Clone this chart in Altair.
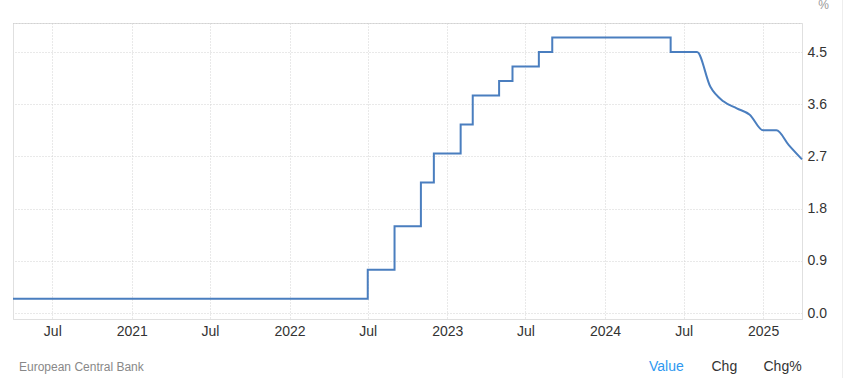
import altair as alt
import pandas as pd

# --- data ---
step_dates = [
    "2020-04-01", "2022-07-01", "2022-09-01", "2022-11-01", "2022-12-01",
    "2023-02-01", "2023-03-01", "2023-05-01", "2023-06-01", "2023-08-01",
    "2023-09-01", "2024-06-01", "2024-08-01",
]
step_values = [0.25, 0.75, 1.50, 2.25, 2.75, 3.25, 3.75, 4.00, 4.25, 4.50, 4.75, 4.50, 4.50]

curve_dates = [
    "2024-07-01", "2024-08-01", "2024-09-01", "2024-10-01", "2024-11-01",
    "2024-12-01", "2025-01-01", "2025-02-01", "2025-03-01", "2025-04-01",
]
curve_values = [4.50, 4.50, 3.90, 3.65, 3.53, 3.42, 3.15, 3.15, 2.90, 2.65]

y_ticks = [0.0, 0.9, 1.8, 2.7, 3.6, 4.5]
x_tick_months = [(2020, 7), (2021, 1), (2021, 7), (2022, 1), (2022, 7),
                 (2023, 1), (2023, 7), (2024, 1), (2024, 7), (2025, 1)]

source_label = "European Central Bank"
footer_labels = ["Value", "Chg", "Chg%"]

# --- build tables ---
step_df = pd.DataFrame({"date": [d + "T00:00:00" for d in step_dates], "value": step_values})
curve_df = pd.DataFrame({"date": [d + "T00:00:00" for d in curve_dates], "value": curve_values})

FONT = "Liberation Sans"
W, H = 789, 296
LINE_COLOR = "#4a7ebf"
GRID = "#d2d2d2"

x_scale = alt.Scale(domain=[alt.DateTime(year=2020, month=4, date=1),
                            alt.DateTime(year=2025, month=4, date=1)])
y_scale = alt.Scale(domain=[-0.1, 5.0], nice=False, zero=False)

x_axis = alt.Axis(
    values=[alt.DateTime(year=y, month=m, date=1) for y, m in x_tick_months],
    labelExpr="month(datum.value) == 0 ? timeFormat(datum.value, '%Y') : 'Jul'",
    title=None, ticks=False, grid=True, gridColor=GRID, gridDash=[1, 2],
    domainColor="#e0e0e0", labelColor="#333333", labelFont=FONT,
    labelFontSize=14, labelPadding=5,
)
y_axis = alt.Axis(
    orient="right", values=y_ticks, format=".1f", ticks=False,
    grid=True, gridColor=GRID, gridDash=[1, 2], domainColor="#e0e0e0",
    labelColor="#333333", labelFont=FONT, labelFontSize=14, labelPadding=5,
    title="%", titleAngle=0, titleX=21, titleY=-19, titleAlign="center",
    titleBaseline="middle", titleFontWeight="normal", titleFontSize=12,
    titleColor="#999999", titleFont=FONT,
)

steps = alt.Chart(step_df).mark_line(
    interpolate="step-after", color=LINE_COLOR, strokeWidth=2
).encode(
    x=alt.X("date:T", scale=x_scale, axis=x_axis),
    y=alt.Y("value:Q", scale=y_scale, axis=y_axis),
)

curve = alt.Chart(curve_df).mark_line(
    interpolate="monotone", color=LINE_COLOR, strokeWidth=2
).encode(
    x=alt.X("date:T", scale=x_scale),
    y=alt.Y("value:Q", scale=y_scale),
)

one = pd.DataFrame({"k": [0]})
left_border = alt.Chart(one).mark_rule(color="#e0e0e0", strokeWidth=1).encode(
    x=alt.value(0.5), y=alt.value(0), y2=alt.value(H)
)
top_grid = alt.Chart(one).mark_rule(color=GRID, strokeWidth=1, strokeDash=[1, 2]).encode(
    x=alt.value(0), x2=alt.value(W), y=alt.value(0.5)
)
page_edge = alt.Chart(one).mark_rule(color="#eeeeee", strokeWidth=1).encode(
    x=alt.value(829.5), y=alt.value(-23), y2=alt.value(355)
)

src = alt.Chart(one).mark_text(
    align="left", baseline="middle", font=FONT, fontSize=12, color="#888888"
).encode(x=alt.value(6), y=alt.value(343.5), text=alt.value(source_label))

footer_x = [636, 698.5, 750.5]
footer_colors = ["#2e98f0", "#333333", "#333333"]
footer = [
    alt.Chart(one).mark_text(
        align="left", baseline="middle", font=FONT, fontSize=14, color=c
    ).encode(x=alt.value(xp), y=alt.value(343.5), text=alt.value(t))
    for t, xp, c in zip(footer_labels, footer_x, footer_colors)
]

chart = alt.layer(
    left_border, top_grid, page_edge, steps, curve, src, *footer
).properties(
    width=W, height=H,
    autosize=alt.AutoSizeParams(type="none"),
    padding={"left": 13, "top": 23, "right": 45, "bottom": 59},
).configure_view(stroke=None).configure(background="white")

chart.save("out.html", embed_options={"renderer": "svg", "actions": False})
